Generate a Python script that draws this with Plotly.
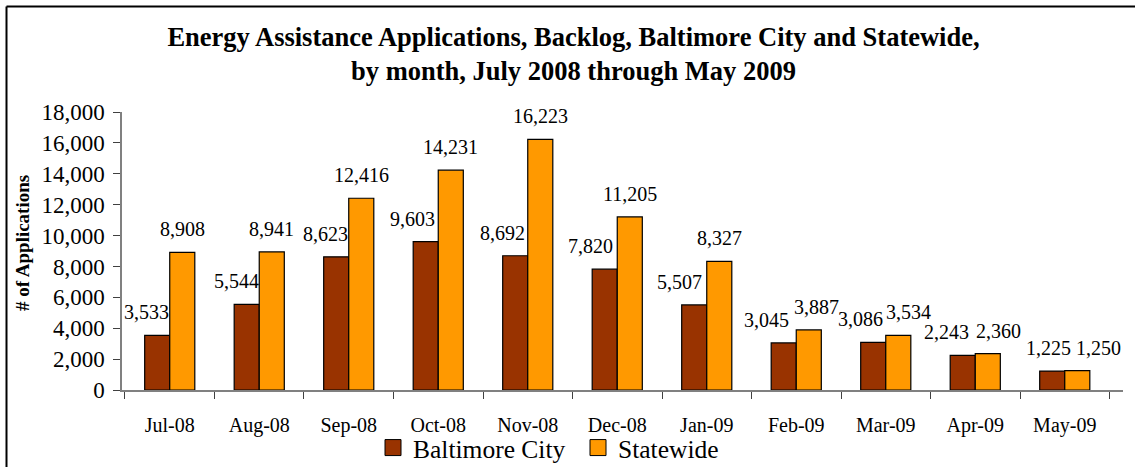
import plotly.graph_objects as go

months = ["Jul-08", "Aug-08", "Sep-08", "Oct-08", "Nov-08", "Dec-08",
          "Jan-09", "Feb-09", "Mar-09", "Apr-09", "May-09"]
baltimore = [3533, 5544, 8623, 9603, 8692, 7820, 5507, 3045, 3086, 2243, 1225]
statewide = [8908, 8941, 12416, 14231, 16223, 11205, 8327, 3887, 3534, 2360, 1250]
y_ticks = [0, 2000, 4000, 6000, 8000, 10000, 12000, 14000, 16000, 18000]

# label nudges (pixels), styling only
balt_nudge = [-10.5, -10.5, -10.5, -13.5, -12.5, -14, -14.5, -17.5, -12.5, -16, -3.5]
state_nudge = [0, 0, 0, 0, 0, 0, 0, 8, 9.5, 10, 21]

FONT = "Liberation Serif, Times New Roman, serif"
C_BALT = "#993300"
C_STATE = "#FF9900"

W, H = 1135, 467
L, R, T, B = 122, 12, 112, 77
pw = W - L - R
ph = H - T - B
half_bar = pw / len(months) * 0.56 / 4


def px_x(p):
    return (p - L) / pw


def px_y(p):
    return (H - B - p) / ph


fig = go.Figure()
fig.add_trace(go.Bar(x=months, y=baltimore, name="Baltimore City",
                     marker=dict(color=C_BALT, line=dict(color="black", width=1.2)),
                     showlegend=False))
fig.add_trace(go.Bar(x=months, y=statewide, name="Statewide",
                     marker=dict(color=C_STATE, line=dict(color="black", width=1.2)),
                     showlegend=False))
# legend entries
for nm, col in [("Baltimore City", C_BALT), ("Statewide", C_STATE)]:
    fig.add_trace(go.Scatter(x=[None], y=[None], mode="markers", name=nm,
                             marker=dict(symbol="square", size=16, color=col,
                                         line=dict(color="black", width=1))))

ann = []
for i, m in enumerate(months):
    ann.append(dict(x=m, y=baltimore[i], text=f"{baltimore[i]:,}", showarrow=False,
                    xref="x", yref="y", yanchor="bottom", yshift=10,
                    xshift=-half_bar + balt_nudge[i],
                    font=dict(family=FONT, size=20, color="black")))
    ann.append(dict(x=m, y=statewide[i], text=f"{statewide[i]:,}", showarrow=False,
                    xref="x", yref="y", yanchor="bottom", yshift=10,
                    xshift=half_bar + state_nudge[i],
                    font=dict(family=FONT, size=20, color="black")))
ann.append(dict(text="<b># of Applications</b>", textangle=-90, showarrow=False,
                xref="paper", yref="paper", x=px_x(22), y=px_y(243),
                xanchor="center", yanchor="middle",
                font=dict(family=FONT, size=19, color="black")))

fig.update_layout(
    width=W, height=H,
    margin=dict(l=L, r=R, t=T, b=B, autoexpand=False),
    paper_bgcolor="white", plot_bgcolor="white",
    barmode="group", bargap=0.44, bargroupgap=0,
    font=dict(family=FONT, color="black"),
    title=dict(text="<b>Energy Assistance Applications, Backlog, Baltimore City and Statewide,<br>"
                    "by month, July 2008 through May 2009</b>",
               x=573.5 / W, xanchor="center", y=1 - 46 / H, yanchor="top",
               font=dict(family=FONT, size=26.5, color="black")),
    xaxis=dict(type="category", showline=True, linecolor="#808080", linewidth=1.5,
               ticks="outside", tickson="boundaries", ticklen=7, tickcolor="#404040",
               tickfont=dict(family=FONT, size=20), ticklabelstandoff=16,
               showgrid=False, zeroline=False),
    yaxis=dict(range=[0, 18000], tickvals=y_ticks, tickformat=",", showline=True,
               linecolor="#808080", linewidth=1.5, ticks="outside", ticklen=7,
               tickcolor="#404040", tickfont=dict(family=FONT, size=23),
               ticklabelstandoff=4, showgrid=False, zeroline=False),
    legend=dict(orientation="h", x=px_x(373), xanchor="left",
                y=px_y(448), yanchor="middle", entrywidth=160,
                font=dict(family=FONT, size=25.5), bgcolor="rgba(0,0,0,0)"),
    annotations=ann,
    shapes=[
        dict(type="rect", xref="paper", yref="paper",
             x0=px_x(1125), x1=px_x(1140), y0=px_y(480), y1=px_y(8),
             fillcolor="white", line=dict(width=0), layer="above"),
        dict(type="line", xref="paper", yref="paper",
             x0=px_x(6.5), x1=px_x(6.5), y0=px_y(467), y1=px_y(6.5),
             line=dict(color="black", width=2), layer="above"),
        dict(type="line", xref="paper", yref="paper",
             x0=px_x(6.5), x1=px_x(1135), y0=px_y(6.5), y1=px_y(6.5),
             line=dict(color="black", width=2), layer="above"),
    ],
)

fig.write_html("out.html", config={"displayModeBar": False},
               post_script="document.body.style.margin='0';document.documentElement.style.overflow='hidden';")
